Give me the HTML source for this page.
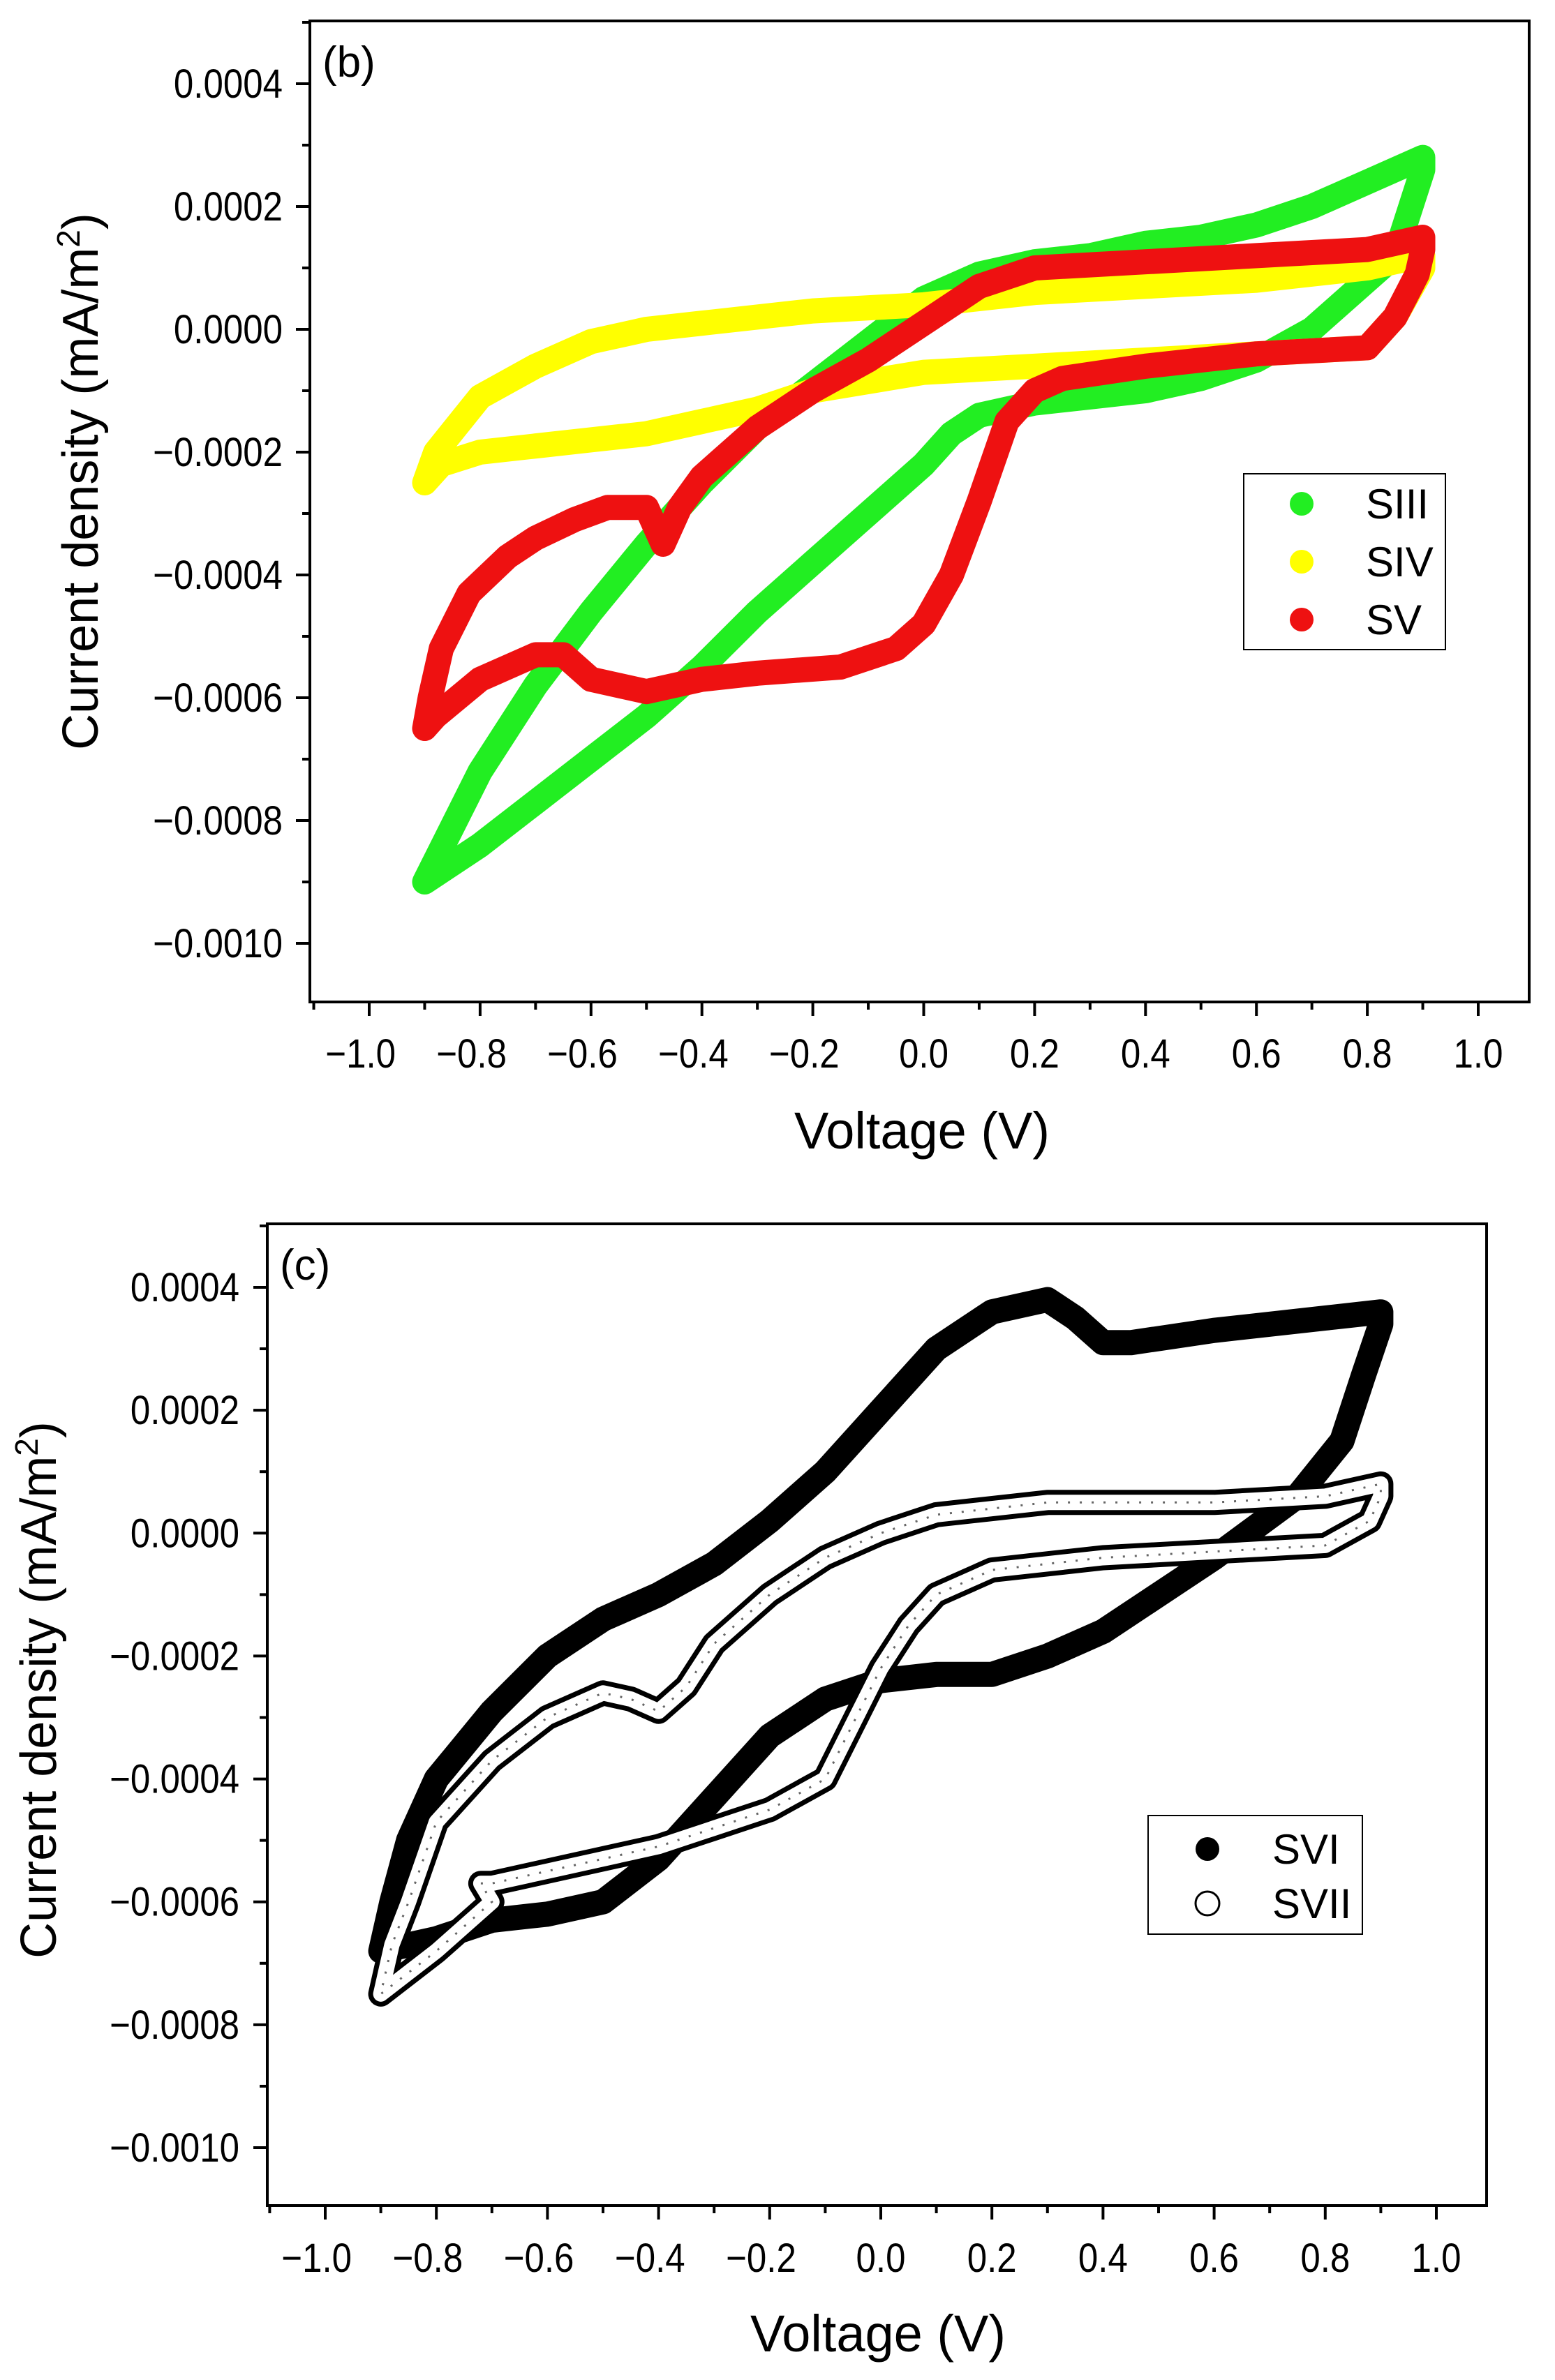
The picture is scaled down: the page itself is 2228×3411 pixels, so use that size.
<!DOCTYPE html>
<html><head><meta charset="utf-8"><style>
html,body{margin:0;padding:0;background:#fff}
svg{display:block}
text{font-family:"Liberation Sans",sans-serif;fill:#000}
</style></head><body>
<svg id="fig" width="2228" height="3411" viewBox="0 0 2228 3411"></svg>
<script>
// ---- Panel (b) data ----
const siiiV=[-0.9,-0.8,-0.7,-0.6,-0.5,-0.4,-0.3,-0.2,-0.1,0,0.1,0.2,0.3,0.4,0.5,0.6,0.7,0.8,0.9,0.9,0.85,0.7,0.6,0.5,0.4,0.3,0.2,0.1,0.05,0,-0.1,-0.2,-0.3,-0.4,-0.5,-0.6,-0.7,-0.8,-0.9];
const siiiJ=[-0.0009,-0.00072,-0.00058,-0.00046,-0.00035,-0.00025,-0.00016,-0.00009,-0.00002,0.00005,0.00009,0.00011,0.00012,0.00014,0.00015,0.00017,0.0002,0.00024,0.00028,0.00026,0.00012,0,-0.00005,-0.00008,-0.0001,-0.00011,-0.00012,-0.00014,-0.00017,-0.00022,-0.0003,-0.00038,-0.00046,-0.00055,-0.00063,-0.0007,-0.00077,-0.00084,-0.0009];
const sivV=[-0.9,-0.88,-0.8,-0.7,-0.6,-0.5,-0.4,-0.2,0,0.2,0.4,0.6,0.8,0.9,0.9,0.85,0.8,0.6,0.4,0.2,0,-0.2,-0.3,-0.4,-0.5,-0.6,-0.7,-0.8,-0.87,-0.9];
const sivJ=[-0.00025,-0.0002,-0.00011,-0.00006,-0.00002,0,0.00001,0.00003,0.00004,0.00006,0.00007,0.00008,0.0001,0.00012,0.0001,0.00002,-0.00003,-0.00004,-0.00005,-0.00006,-0.00007,-0.0001,-0.00013,-0.00015,-0.00017,-0.00018,-0.00019,-0.0002,-0.00022,-0.00025];
const svV=[-0.9,-0.89,-0.87,-0.82,-0.75,-0.7,-0.63,-0.57,-0.5,-0.48,-0.47,-0.44,-0.4,-0.3,-0.2,-0.1,0,0.1,0.2,0.4,0.6,0.8,0.9,0.9,0.89,0.85,0.8,0.6,0.4,0.25,0.2,0.15,0.1,0.05,0,-0.05,-0.15,-0.3,-0.4,-0.5,-0.6,-0.65,-0.7,-0.8,-0.88,-0.9];
const svJ=[-0.00065,-0.0006,-0.00052,-0.00043,-0.00037,-0.00034,-0.00031,-0.00029,-0.00029,-0.00033,-0.00035,-0.00029,-0.00024,-0.00016,-0.0001,-0.00005,0.00001,0.00007,0.0001,0.00011,0.00012,0.00013,0.00015,0.00013,0.00009,0.00002,-0.00003,-0.00004,-0.00006,-0.00008,-0.0001,-0.00015,-0.00028,-0.0004,-0.00048,-0.00052,-0.00055,-0.00056,-0.00057,-0.00059,-0.00057,-0.00053,-0.00053,-0.00057,-0.00063,-0.00065];
// ---- Panel (c) data ----
const sviV=[-0.9,-0.88,-0.85,-0.8,-0.7,-0.6,-0.5,-0.4,-0.3,-0.2,-0.1,0,0.1,0.2,0.3,0.35,0.4,0.45,0.6,0.8,0.9,0.9,0.87,0.83,0.75,0.6,0.5,0.4,0.3,0.2,0.1,0,-0.1,-0.2,-0.3,-0.4,-0.5,-0.6,-0.7,-0.8,-0.9];
const sviJ=[-0.00068,-0.0006,-0.0005,-0.0004,-0.00029,-0.0002,-0.00014,-0.0001,-0.00005,0.00002,0.0001,0.0002,0.0003,0.00036,0.00038,0.00035,0.00031,0.00031,0.00033,0.00035,0.00036,0.00034,0.00026,0.00015,0.00006,-0.00004,-0.0001,-0.00016,-0.0002,-0.00023,-0.00023,-0.00024,-0.00027,-0.00033,-0.00043,-0.00053,-0.0006,-0.00062,-0.00063,-0.00066,-0.00068];
const sviiV=[-0.72,-0.7,-0.6,-0.5,-0.4,-0.3,-0.2,-0.1,0,0.05,0.1,0.2,0.4,0.6,0.8,0.88,0.9,0.9,0.8,0.6,0.3,0.1,0,-0.1,-0.2,-0.3,-0.35,-0.4,-0.45,-0.5,-0.6,-0.7,-0.8,-0.85,-0.88,-0.9,-0.8,-0.7,-0.72];
const sviiJ=[-0.00057,-0.00057,-0.00055,-0.00053,-0.00051,-0.00048,-0.00045,-0.0004,-0.00022,-0.00015,-0.0001,-0.00006,-0.00004,-0.00003,-0.00002,0.00002,0.00006,0.00008,0.00006,0.00005,0.00005,0.00003,0,-0.00004,-0.0001,-0.00018,-0.00025,-0.00029,-0.00027,-0.00026,-0.0003,-0.00037,-0.00047,-0.0006,-0.00067,-0.00075,-0.00068,-0.0006,-0.00057];
const xTicks=[-1.0,-0.8,-0.6,-0.4,-0.2,0.0,0.2,0.4,0.6,0.8,1.0];
const yTicks=[0.0004,0.0002,0.0,-0.0002,-0.0004,-0.0006,-0.0008,-0.0010];

const NS="http://www.w3.org/2000/svg";
const svg=document.getElementById('fig');
function mk(tag,attrs,parent){const e=document.createElementNS(NS,tag);for(const k in attrs)e.setAttribute(k,attrs[k]);(parent||svg).appendChild(e);return e;}
function fmtY(v){const s=Math.abs(v).toFixed(4);return (v<-1e-12?'\u22120':'0')+s.slice(1);}
function fmtX(v){const s=Math.abs(v).toFixed(1);return (v<-1e-12?'\u2212':'')+s;}

function panel(P){
  const g=mk('g',{});
  
  
  const sx=v=>P.x0+(v+1)/2*(P.x1-P.x0);
  const sy=v=>P.y0+(0.0004-v)/0.0014*(P.y1-P.y0);
  P.series.forEach(s=>{
    const pts=s.v.map((v,i)=>sx(v).toFixed(1)+','+sy(s.j[i]).toFixed(1)).join(' ');
    if(s.hollow){
      const a=mk('polyline',{points:pts,fill:'none',stroke:'#000','stroke-width':36,'stroke-linejoin':'round','stroke-linecap':'round'},g);
      
      
      const b=mk('polyline',{points:pts,fill:'none',stroke:'#fff','stroke-width':22,'stroke-linejoin':'round','stroke-linecap':'round'},g);
      
      
      const c=mk('polyline',{points:pts,fill:'none',stroke:'#666','stroke-width':3,'stroke-dasharray':'3 14'},g);
      
      
    } else {
      const a=mk('polyline',{points:pts,fill:'none',stroke:s.c,'stroke-width':36,'stroke-linejoin':'round','stroke-linecap':'round'},g);
      
      
    }
  });
  const fr=mk('rect',{x:P.fx0,y:P.fy0,width:P.fx1-P.fx0,height:P.fy1-P.fy0,fill:'none',stroke:'#000','stroke-width':4},g);
  
  
  for(let k=-11;k<=11;k++){
    const v=k/10, X=sx(v); if(X<P.fx0||X>P.fx1)continue;
    const major=k%2===0;
    mk('line',{x1:X,y1:P.fy1,x2:X,y2:P.fy1+(major?20:11),stroke:'#000','stroke-width':4},g);
  }
  xTicks.forEach(v=>{
    const t=mk('text',{x:sx(v)-(v<0?14:0),y:P.xly,'font-size':58,'text-anchor':'middle',transform:`translate(${sx(v)*0.12},0) scale(0.88,1)`},g);
    t.textContent=fmtX(v);
    
    
  });
  for(let k=-11;k<=5;k++){
    const v=k*0.0001, Y=sy(v); if(Y<P.fy0||Y>P.fy1)continue;
    const major=(k%2===0);
    mk('line',{x1:P.fx0,y1:Y,x2:P.fx0-(major?20:11),y2:Y,stroke:'#000','stroke-width':4},g);
  }
  yTicks.forEach(v=>{
    const t=mk('text',{x:P.ylx,y:sy(v)+20,'font-size':58,'text-anchor':'end',transform:`translate(${P.ylx*0.12},0) scale(0.88,1)`},g);
    t.textContent=fmtY(v);
    
    
  });
  const xt=mk('text',{x:P.xtx,y:P.xty,'font-size':74,'text-anchor':'middle'},g);
  xt.textContent='Voltage (V)';
  
  
  const yt=mk('text',{x:0,y:0,'font-size':72,'text-anchor':'middle',transform:`translate(${P.ytx},${P.yty}) rotate(-90)`},g);
  yt.innerHTML='Current density (mA/m<tspan baseline-shift="super" font-size="46">2</tspan>)';
  
  
  const pl=mk('text',{x:P.fx0+18,y:P.fy0+80,'font-size':62},g);
  pl.textContent=P.label;
  
  
  const L=P.leg;
  const lb=mk('rect',{x:L.x,y:L.y,width:L.w,height:L.h,fill:'#fff',stroke:'#000','stroke-width':2},g);
  
  
  P.series.forEach((s,i)=>{
    const cy=L.y+L.first+i*L.step;
    const c=mk('circle',{cx:L.x+L.mx,cy:cy,r:17,fill:s.hollow?'#fff':s.c,stroke:s.hollow?'#000':s.c,'stroke-width':s.hollow?3:0},g);
    
    
    const t=mk('text',{x:L.x+L.tx,y:cy+21,'font-size':60},g);
    t.textContent=s.label;
    
    
  });
}

panel({name:'panel-b',label:'(b)',x0:529,x1:2118,y0:120,y1:1352,fx0:444,fx1:2191,fy0:30,fy1:1436,
  xly:1530,ylx:405,xtx:1321,xty:1646,ytx:140,yty:690,
  leg:{x:1782,y:679,w:289,h:252,first:43,step:83,mx:83,tx:175},
  series:[{id:'siii',label:'SIII',c:'#22ee22',v:siiiV,j:siiiJ},{id:'siv',label:'SIV',c:'#ffff00',v:sivV,j:sivJ},{id:'sv',label:'SV',c:'#ee1111',v:svV,j:svJ}]});
panel({name:'panel-c',label:'(c)',x0:466,x1:2058,y0:1845,y1:3078,fx0:383,fx1:2130,fy0:1754,fy1:3161,
  xly:3256,ylx:343,xtx:1258,xty:3370,ytx:80,yty:2422,
  leg:{x:1645,y:2602,w:307,h:170,first:48,step:78,mx:85,tx:178},
  series:[{id:'svi',label:'SVI',c:'#000',v:sviV,j:sviJ},{id:'svii',label:'SVII',hollow:true,c:'#000',v:sviiV,j:sviiJ}]});
</script>
</body></html>
